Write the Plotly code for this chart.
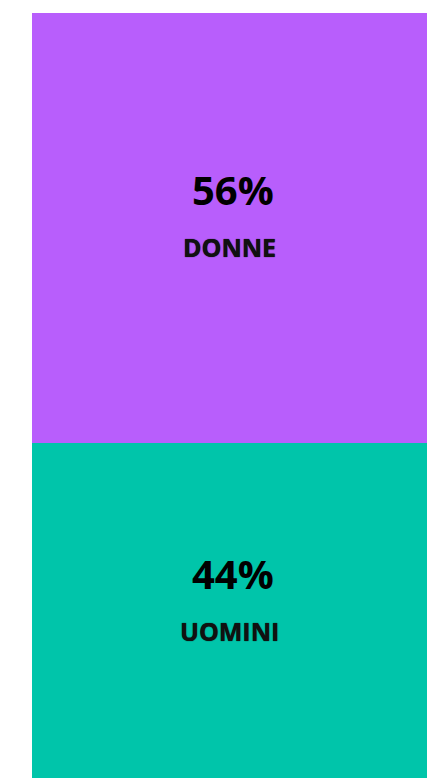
import plotly.graph_objects as go

categories = ["DONNE", "UOMINI"]
values = [56, 44]
colors = ["#b85efc", "#00c5aa"]

fig = go.Figure()
# stack: UOMINI at bottom, DONNE on top
order = [1, 0]
for i in order:
    fig.add_trace(go.Bar(
        x=["tot"], y=[values[i]], name=categories[i],
        marker=dict(color=colors[i], line=dict(width=0)),
        hoverinfo="skip",
    ))

base = 0
annotations = []
for i in order:
    mid = base + values[i] / 2
    annotations.append(dict(x="tot", y=mid, text=f"<b>{values[i]}%</b>", showarrow=False,
                            yshift=39, xshift=3,
                            font=dict(family="Open Sans", size=40, color="#000000")))
    annotations.append(dict(x="tot", y=mid, text=f"<b>{categories[i]}</b>", showarrow=False,
                            yshift=-19,
                            font=dict(family="Open Sans", size=25, color="#111111",
                                      shadow="0px 0px 1px #000")))
    base += values[i]

fig.update_layout(
    width=446, height=778,
    barmode="stack", bargap=0,
    margin=dict(l=24, r=27, t=5, b=5),
    paper_bgcolor="white", plot_bgcolor="white",
    showlegend=False,
    xaxis=dict(visible=False),
    yaxis=dict(visible=False, range=[0, 100]),
    annotations=annotations,
)
fig.write_html("out.html")
